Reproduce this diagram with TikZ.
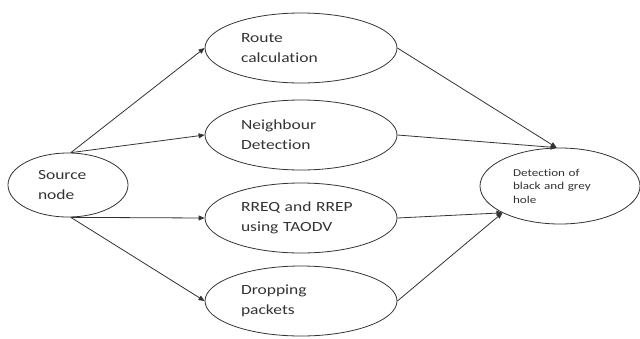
\documentclass[tikz,border=0pt]{standalone}
\usepackage{fontspec}
\setmainfont{Carlito}[FakeStretch=1.25,Ligatures=NoCommon]
\usetikzlibrary{shapes.geometric,arrows.meta}
\definecolor{ink}{HTML}{333333}
\tikzset{
  oval/.style={ellipse, draw=ink, line width=0.8pt, inner sep=0pt, text=ink,
    minimum width=192pt, minimum height=70pt, align=left, text width=120pt,
    font=\fontsize{14}{20}\selectfont},
  link/.style={draw=ink, line width=0.8pt, -{Triangle[length=6pt,width=5pt]}}
}
\begin{document}
\begin{tikzpicture}[x=1pt,y=-1pt]
\useasboundingbox (0,0) rectangle (640,338);
\node[oval, minimum width=120pt, minimum height=64pt, text width=60pt] (src) at (68,185) {Source\\node};
\node[oval] (route) at (301,48) {Route\\calculation};
\node[oval] (neigh) at (301,135) {Neighbour\\Detection};
\node[oval] (rreq) at (301,218) {RREQ and RREP\\using TAODV};
\node[oval] (drop) at (301,301) {Dropping\\packets};
\node[oval, minimum width=160pt, minimum height=76pt, text width=94pt,
  font=\fontsize{10.5}{13.5}\selectfont] (det) at (560,186) {Detection of\\black and grey\\hole};
\draw[link] (src.85) -- (route.west);
\draw[link] (src.85) -- (neigh.west);
\draw[link] (src.275) -- (rreq.west);
\draw[link] (src.275) -- (drop.west);
\draw[link] (route.east) -- (det.95);
\draw[link] (neigh.east) -- (det.95);
\draw[link] (rreq.east) -- (det.205);
\draw[link] (drop.east) -- (det.205);
\end{tikzpicture}
\end{document}
